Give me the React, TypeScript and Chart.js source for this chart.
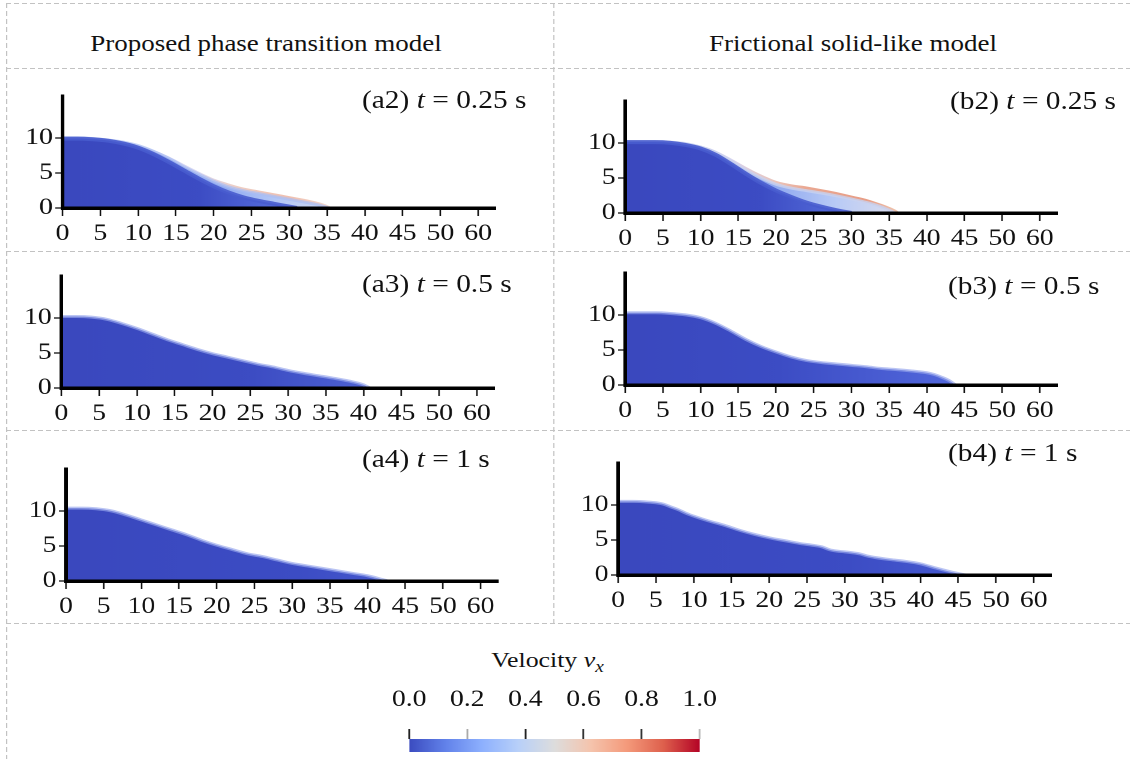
import React, { useEffect, useRef } from "react";
import { Chart, registerables } from "chart.js";

Chart.register(...registerables);

// ---------- shared axes ----------
const X_TICK_VALUES = [0, 5, 10, 15, 20, 25, 30, 35, 40, 45, 50, 55];
const X_TICK_LABELS = ["0", "5", "10", "15", "20", "25", "30", "35", "40", "45", "50", "60"];
const Y_TICK_VALUES = [0, 5, 10];
const X_MAX = 57.3;
const Y_MAX = 16;

// ---------- colour bar ----------
const CB_TICK_VALUES = [0, 0.2, 0.4, 0.6, 0.8, 1.0];
const CB_TICK_LABELS = ["0.0", "0.2", "0.4", "0.6", "0.8", "1.0"];
const CB_RANGE = [0, 1];

// ---------- free-surface profiles (x, height) ----------
// (a2) phase transition, t = 0.25 s : surface, sheared layer, slow core
const a2SurfX = [0, 2, 4, 6, 8, 10, 12, 14, 16, 18, 20, 22, 24, 26, 28, 30, 32, 34, 35, 35.8];
const a2SurfY = [10.1, 10.1, 10.0, 9.8, 9.5, 9.0, 8.3, 7.4, 6.3, 5.2, 4.2, 3.5, 2.9, 2.5, 2.1, 1.7, 1.3, 0.8, 0.45, 0];
const a2ShearX = [0, 2, 4, 6, 8, 10, 12, 14, 16, 18, 20, 22, 24, 26, 28, 30, 32, 34, 35.2];
const a2ShearY = [10.0, 10.0, 9.9, 9.7, 9.4, 8.9, 8.1, 7.1, 5.9, 4.8, 3.8, 3.0, 2.45, 2.05, 1.65, 1.25, 0.85, 0.4, 0];
const a2CoreX = [0, 2, 4, 6, 8, 10, 12, 14, 16, 18, 20, 22, 24, 26, 28, 30, 31];
const a2CoreY = [9.9, 9.9, 9.8, 9.6, 9.2, 8.6, 7.7, 6.6, 5.4, 4.2, 3.1, 2.2, 1.5, 1.0, 0.6, 0.2, 0];

// (b2) frictional solid-like, t = 0.25 s
const b2SurfX = [0, 2, 4, 6, 8, 10, 12, 14, 16, 18, 20, 22, 24, 26, 28, 30, 32, 34, 35, 36, 36.5];
const b2SurfY = [10.3, 10.3, 10.3, 10.2, 10.0, 9.6, 8.9, 7.8, 6.6, 5.5, 4.6, 4.1, 3.8, 3.4, 3.0, 2.5, 2.0, 1.3, 0.9, 0.4, 0];
const b2ShearX = [0, 2, 4, 6, 8, 10, 12, 14, 16, 18, 20, 22, 24, 26, 28, 30, 32, 34, 35.8];
const b2ShearY = [10.2, 10.2, 10.2, 10.1, 9.9, 9.4, 8.6, 7.4, 6.1, 5.0, 4.1, 3.55, 3.2, 2.85, 2.45, 2.0, 1.5, 0.85, 0];
const b2CoreX = [0, 2, 4, 6, 8, 10, 12, 14, 16, 18, 20, 22, 24, 26, 28, 30];
const b2CoreY = [10.1, 10.1, 10.1, 10.0, 9.7, 9.2, 8.3, 7.0, 5.6, 4.3, 3.2, 2.3, 1.5, 0.9, 0.4, 0];

// (a3) / (b3), t = 0.5 s
const a3X = [0, 2, 4, 6, 8, 10, 12, 14, 16, 18, 20, 22, 24, 26, 28, 30, 32, 34, 36, 38, 40, 40.8];
const a3Y = [10.2, 10.2, 10.1, 9.8, 9.2, 8.5, 7.7, 6.9, 6.2, 5.5, 4.9, 4.4, 3.9, 3.4, 3.0, 2.5, 2.1, 1.75, 1.4, 1.0, 0.45, 0];
const b3X = [0, 2, 4, 6, 8, 10, 12, 14, 16, 18, 20, 22, 24, 26, 28, 30, 32, 34, 36, 38, 40, 41, 42, 43, 43.8];
const b3Y = [10.3, 10.3, 10.3, 10.2, 10.0, 9.6, 8.8, 7.7, 6.5, 5.5, 4.7, 4.0, 3.5, 3.2, 3.0, 2.8, 2.6, 2.35, 2.2, 2.0, 1.75, 1.5, 1.1, 0.6, 0];

// (a4) / (b4), t = 1 s
const a4X = [0, 2, 4, 6, 8, 10, 12, 14, 16, 18, 20, 22, 24, 26, 28, 30, 32, 34, 36, 38, 40, 42, 42.7];
const a4Y = [10.4, 10.4, 10.3, 10.0, 9.4, 8.7, 8.0, 7.3, 6.6, 5.8, 5.1, 4.5, 3.9, 3.5, 3.0, 2.5, 2.15, 1.8, 1.45, 1.1, 0.75, 0.2, 0];
const b4X = [0, 2, 4, 5, 6, 7, 8, 9, 10, 12, 14, 16, 18, 20, 22, 24, 26, 27, 28, 29, 30, 32, 33, 34, 36, 38, 40, 42, 44, 45, 46];
const b4Y = [10.5, 10.5, 10.4, 10.3, 10.1, 9.7, 9.3, 8.8, 8.4, 7.7, 7.1, 6.4, 5.8, 5.3, 4.9, 4.5, 4.2, 4.0, 3.6, 3.4, 3.3, 3.0, 2.7, 2.5, 2.2, 1.95, 1.6, 1.0, 0.45, 0.2, 0];

const PANEL_TAGS = ["a2", "b2", "a3", "b3", "a4", "b4"];
const PANEL_TIMES = ["0.25", "0.25", "0.5", "0.5", "1", "1"];
const COLUMN_TITLES = ["Proposed phase transition model", "Frictional solid-like model"];

// ---------- styling ----------
const SERIF = '"Liberation Serif", "Times New Roman", Times, serif';
const STRETCH = 1.2; // the figure is laid out in a narrow frame, then widened
const FRAME_W = 1130 / STRETCH;
const cx = (x: number) => x / STRETCH;

const TICK_SIZE = 23;
const HEADER_SIZE = 22.5;
const TITLE_SIZE = 24.5;
const CB_LABEL_SIZE = 23;
const CB_TITLE_SIZE = 21.5;

const COOLWARM: [number, string][] = [
  [0.0, "rgb(59,76,192)"],
  [0.125, "rgb(98,130,234)"],
  [0.25, "rgb(141,176,254)"],
  [0.375, "rgb(184,208,249)"],
  [0.5, "rgb(221,221,221)"],
  [0.625, "rgb(245,196,173)"],
  [0.75, "rgb(244,154,123)"],
  [0.875, "rgb(222,96,77)"],
  [1.0, "rgb(180,4,38)"],
];
const CB_TICK_COLORS = ["#222", "#aaa", "#222", "#333", "#333", "#bbb"];

const CORE_STOPS: [number, string][] = [[0, "rgb(58,72,190)"], [30, "rgb(60,76,196)"], [46, "rgb(70,90,208)"]];
const EDGE = "rgba(150,166,236,0.65)";

type Layer = { xs: number[]; ys: number[]; stops: [number, string][]; edge?: string; edgeWidth?: number };
type Panel = { left: number; bottom: number; titleX: number; titleBase: number; layers: Layer[] };

const PLOT_W = 433; // page px
const PLOT_H = 116;
const Y_AXIS_W = 40; // frame px
const X_AXIS_H = 46;
const PAD_TOP = 12;
const PAD_RIGHT = 8;

const PANELS: Panel[] = [
  {
    left: 62.5, bottom: 208.3, titleX: 362, titleBase: 109,
    layers: [
      { xs: a2CoreX, ys: a2CoreY, stops: [[0, "rgb(58,72,190)"], [18, "rgb(60,76,196)"], [30, "rgb(88,112,220)"]], edge: "rgba(72,92,206,0.9)", edgeWidth: 4 },
      { xs: a2ShearX, ys: a2ShearY, stops: [[0, "rgb(84,104,214)"], [12, "rgb(104,130,228)"], [20, "rgb(140,166,240)"], [28, "rgb(178,198,246)"], [35, "rgb(206,215,240)"]], edge: "rgba(170,190,244,0.7)", edgeWidth: 3 },
      { xs: a2SurfX, ys: a2SurfY, stops: [[0, "rgb(205,212,248)"], [18, "rgb(216,216,242)"], [23, "rgb(238,206,196)"], [30, "rgb(240,192,176)"], [35.8, "rgb(244,220,210)"]] },
    ],
  },
  {
    left: 624.7, bottom: 213.3, titleX: 950, titleBase: 110,
    layers: [
      { xs: b2CoreX, ys: b2CoreY, stops: [[0, "rgb(58,72,190)"], [18, "rgb(60,76,196)"], [30, "rgb(88,112,220)"]], edge: "rgba(72,92,206,0.9)", edgeWidth: 4 },
      { xs: b2ShearX, ys: b2ShearY, stops: [[0, "rgb(84,104,214)"], [12, "rgb(104,130,228)"], [20, "rgb(145,170,240)"], [28, "rgb(185,203,246)"], [35, "rgb(214,218,238)"]], edge: "rgba(200,210,240,0.8)", edgeWidth: 3 },
      { xs: b2SurfX, ys: b2SurfY, stops: [[0, "rgb(205,212,248)"], [14, "rgb(215,212,240)"], [20, "rgb(235,196,186)"], [24, "rgb(234,168,146)"], [32, "rgb(232,158,134)"], [36.5, "rgb(240,200,178)"]] },
    ],
  },
  {
    left: 61.4, bottom: 388.3, titleX: 362, titleBase: 293,
    layers: [{ xs: a3X, ys: a3Y, stops: [[0, "rgb(58,72,190)"], [25, "rgb(60,76,195)"], [41, "rgb(78,98,212)"]], edge: EDGE, edgeWidth: 3 }],
  },
  {
    left: 624.7, bottom: 385, titleX: 948, titleBase: 295,
    layers: [{ xs: b3X, ys: b3Y, stops: [[0, "rgb(58,72,190)"], [20, "rgb(60,76,196)"], [44, "rgb(82,104,220)"]], edge: EDGE, edgeWidth: 3 }],
  },
  {
    left: 65.4, bottom: 580.7, titleX: 362, titleBase: 468,
    layers: [{ xs: a4X, ys: a4Y, stops: CORE_STOPS, edge: EDGE, edgeWidth: 3 }],
  },
  {
    left: 618, bottom: 575, titleX: 948, titleBase: 462,
    layers: [{ xs: b4X, ys: b4Y, stops: CORE_STOPS, edge: EDGE, edgeWidth: 3 }],
  },
];

// ---------- helpers ----------
function xGradient(chart: any, stops: [number, string][]) {
  const area = chart.chartArea;
  const sx = chart.scales?.x;
  if (!area || !sx) return stops[0][1];
  const v0 = stops[0][0];
  const v1 = stops[stops.length - 1][0];
  const g = chart.ctx.createLinearGradient(sx.getPixelForValue(v0), 0, sx.getPixelForValue(v1), 0);
  stops.forEach(([v, c]) => g.addColorStop((v - v0) / (v1 - v0), c));
  return g;
}

function colorbarGradient(chart: any) {
  const area = chart.chartArea;
  if (!area) return COOLWARM[0][1];
  const g = chart.ctx.createLinearGradient(area.left, 0, area.right, 0);
  COOLWARM.forEach(([t, c]) => g.addColorStop(t, c));
  return g;
}

const tickFont = { family: SERIF, size: TICK_SIZE };

function PanelChart({ panel }: { panel: Panel }) {
  const ref = useRef<HTMLCanvasElement>(null);
  const w = Y_AXIS_W + cx(PLOT_W) + PAD_RIGHT;
  const h = PAD_TOP + PLOT_H + X_AXIS_H;
  const left = cx(panel.left) - Y_AXIS_W;
  const top = panel.bottom - PLOT_H - PAD_TOP;

  useEffect(() => {
    if (!ref.current) return;
    const chart = new Chart(ref.current, {
      type: "line",
      data: {
        datasets: panel.layers.map((l) => ({
          data: l.xs.map((x, i) => ({ x, y: l.ys[i] })),
          fill: "origin",
          backgroundColor: (c: any) => xGradient(c.chart, l.stops),
          borderColor: l.edge ?? "rgba(0,0,0,0)",
          borderWidth: l.edgeWidth ?? 0,
          pointRadius: 0,
          cubicInterpolationMode: "monotone",
        })),
      },
      options: {
        responsive: false,
        maintainAspectRatio: false,
        animation: false,
        devicePixelRatio: 2,
        events: [],
        layout: { padding: { top: PAD_TOP, right: PAD_RIGHT, left: 0, bottom: 0 } },
        plugins: { legend: { display: false }, tooltip: { enabled: false }, title: { display: false } },
        scales: {
          x: {
            type: "linear",
            min: 0,
            max: X_MAX,
            bounds: "data",
            afterBuildTicks: (s: any) => {
              s.ticks = X_TICK_VALUES.map((value) => ({ value }));
            },
            afterFit: (s: any) => {
              s.height = X_AXIS_H;
            },
            ticks: {
              autoSkip: false,
              maxRotation: 0,
              minRotation: 0,
              padding: 4,
              color: "#111",
              font: tickFont,
              callback: (_v: any, i: number) => X_TICK_LABELS[i],
            },
            grid: { drawOnChartArea: false, drawTicks: true, tickLength: 8, tickWidth: 1.3, tickColor: "#111" },
            border: { display: true, color: "#000", width: 3.5, z: 1 },
          },
          y: {
            type: "linear",
            min: 0,
            max: Y_MAX,
            bounds: "data",
            afterBuildTicks: (s: any) => {
              s.ticks = Y_TICK_VALUES.map((value) => ({ value }));
            },
            afterFit: (s: any) => {
              s.width = Y_AXIS_W;
            },
            ticks: { padding: 2, color: "#111", font: tickFont, callback: (v: any) => String(v) },
            grid: { drawOnChartArea: false, drawTicks: true, tickLength: 6, tickWidth: 1.3, tickColor: "#111" },
            border: { display: true, color: "#000", width: 3, z: 1 },
          },
        },
      } as any,
    });
    return () => chart.destroy();
  }, [panel]);

  return (
    <canvas
      ref={ref}
      width={w}
      height={h}
      style={{ position: "absolute", left, top, width: w, height: h }}
    />
  );
}

const CB_LEFT = 409;
const CB_RIGHT = 700;
const CB_TOP = 739;
const CB_BAR_H = 13;
const CB_AXIS_H = 56;
const CB_PAD = 36;

function ColorBar() {
  const ref = useRef<HTMLCanvasElement>(null);
  const w = cx(CB_RIGHT - CB_LEFT) + 2 * CB_PAD;
  const h = CB_AXIS_H + CB_BAR_H;
  useEffect(() => {
    if (!ref.current) return;
    const chart = new Chart(ref.current, {
      type: "bar",
      data: {
        labels: ["vx"],
        datasets: [
          {
            data: [CB_RANGE],
            backgroundColor: (c: any) => colorbarGradient(c.chart),
            borderWidth: 0,
            barPercentage: 1,
            categoryPercentage: 1,
          },
        ],
      },
      options: {
        indexAxis: "y",
        responsive: false,
        maintainAspectRatio: false,
        animation: false,
        devicePixelRatio: 2,
        events: [],
        layout: { padding: { left: CB_PAD, right: CB_PAD, top: 0, bottom: 0 } },
        plugins: { legend: { display: false }, tooltip: { enabled: false } },
        scales: {
          x: {
            type: "linear",
            position: "top",
            min: 0,
            max: 1,
            bounds: "data",
            afterBuildTicks: (s: any) => {
              s.ticks = CB_TICK_VALUES.map((value) => ({ value }));
            },
            afterFit: (s: any) => {
              s.height = CB_AXIS_H;
            },
            ticks: {
              autoSkip: false,
              maxRotation: 0,
              padding: 15,
              color: "#111",
              font: { family: SERIF, size: CB_LABEL_SIZE },
              callback: (_v: any, i: number) => CB_TICK_LABELS[i],
            },
            grid: {
              drawOnChartArea: false,
              drawTicks: true,
              tickLength: 10,
              tickWidth: 1.5,
              tickColor: (c: any) => CB_TICK_COLORS[c.index] ?? "#222",
            },
            border: { display: false },
          },
          y: { display: false },
        },
      } as any,
    });
    return () => chart.destroy();
  }, []);
  return (
    <canvas
      ref={ref}
      width={w}
      height={h}
      style={{ position: "absolute", left: cx(CB_LEFT) - CB_PAD, top: CB_TOP - CB_AXIS_H, width: w, height: h }}
    />
  );
}

// ---------- frame ----------
const H_LINES = [3, 68, 251, 430, 623];
const V_LINES = [
  { x: 6, y0: 3, y1: 759 },
  { x: 553, y0: 3, y1: 623 },
];
const LINE_COLOR = "#c2c2c2";

function textTop(baseline: number, size: number) {
  return baseline - 0.8375 * size;
}

export default function App() {
  return (
    <div
      style={{
        position: "absolute",
        left: 0,
        top: 0,
        width: FRAME_W,
        height: 759,
        transform: `scaleX(${STRETCH})`,
        transformOrigin: "0 0",
        background: "#fff",
        overflow: "hidden",
        fontFamily: SERIF,
        color: "#111",
      }}
    >
      {H_LINES.map((y) => (
        <div
          key={`h${y}`}
          style={{
            position: "absolute",
            left: cx(6),
            top: y,
            width: FRAME_W - cx(6),
            height: 1,
            backgroundImage: `repeating-linear-gradient(to right, ${LINE_COLOR} 0 ${cx(5)}px, transparent ${cx(5)}px ${cx(8)}px)`,
          }}
        />
      ))}
      {V_LINES.map((l) => (
        <div
          key={`v${l.x}`}
          style={{
            position: "absolute",
            left: cx(l.x),
            top: l.y0,
            width: 1,
            height: l.y1 - l.y0,
            backgroundImage: `repeating-linear-gradient(to bottom, ${LINE_COLOR} 0 5px, transparent 5px 8px)`,
          }}
        />
      ))}

      {COLUMN_TITLES.map((t, i) => {
        const center = i === 0 ? 266 : 853;
        return (
          <div
            key={t}
            style={{
              position: "absolute",
              left: cx(center) - 200,
              width: 400,
              top: textTop(52, HEADER_SIZE),
              fontSize: HEADER_SIZE,
              lineHeight: `${HEADER_SIZE}px`,
              textAlign: "center",
              whiteSpace: "nowrap",
            }}
          >
            {t}
          </div>
        );
      })}

      {PANELS.map((p, i) => (
        <React.Fragment key={PANEL_TAGS[i]}>
          <PanelChart panel={p} />
          <div
            style={{
              position: "absolute",
              left: cx(p.titleX),
              top: textTop(p.titleBase, TITLE_SIZE),
              fontSize: TITLE_SIZE,
              lineHeight: `${TITLE_SIZE}px`,
              whiteSpace: "nowrap",
            }}
          >
            ({PANEL_TAGS[i]}) <i>t</i> = {PANEL_TIMES[i]} s
          </div>
        </React.Fragment>
      ))}

      <div
        style={{
          position: "absolute",
          left: cx(547.5) - 150,
          width: 300,
          top: textTop(668, CB_TITLE_SIZE),
          fontSize: CB_TITLE_SIZE,
          lineHeight: `${CB_TITLE_SIZE}px`,
          textAlign: "center",
          whiteSpace: "nowrap",
        }}
      >
        Velocity <i>v</i>
        <i style={{ fontSize: 16, position: "relative", top: 5 }}>x</i>
      </div>
      <ColorBar />
    </div>
  );
}
